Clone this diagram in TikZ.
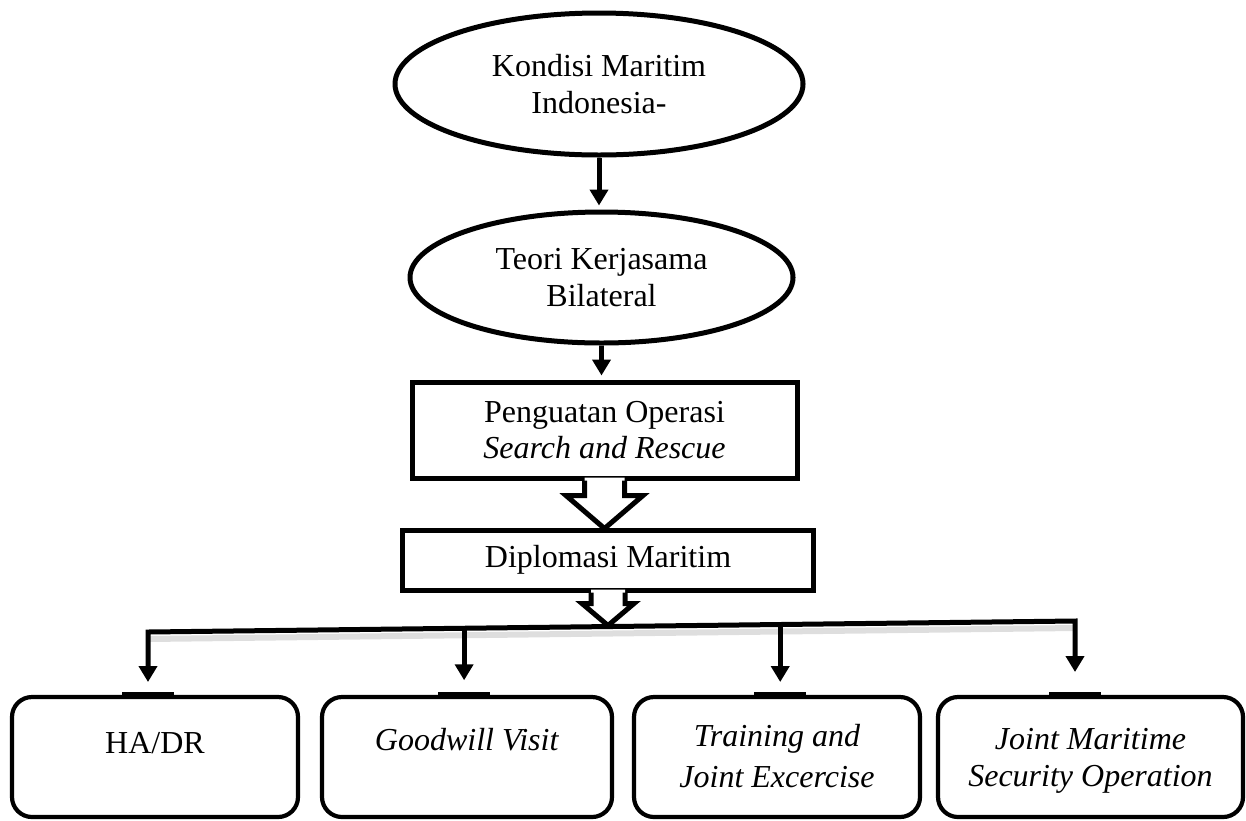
\documentclass[tikz,border=0pt]{standalone}
\usepackage{fontspec}
\setmainfont{Liberation Serif}
\usetikzlibrary{shapes.geometric,arrows.meta,calc}
\begin{document}
\begin{tikzpicture}[x=0.5pt,y=-0.5pt,
  every node/.style={font=\fontsize{16}{18.2}\selectfont, align=center, inner sep=0pt},
  ell/.style={ellipse, draw, line width=2.5pt},
  sbox/.style={rectangle, draw, line width=2.5pt},
  rbox/.style={rectangle, rounded corners=10pt, draw, line width=2.1pt, minimum height=60pt},
  arr/.style={line width=2.5pt, -{Triangle[width=9pt,length=8pt]}},
  blk/.style={line width=2.5pt, line join=miter},
  bar/.style={line width=3.4pt},
  shade/.style={preaction={draw=black!13, line width=3pt, transform canvas={yshift=-3.5pt}}}]
\useasboundingbox (0,0) rectangle (1246,820);

% upper chain
\node[ell, minimum width=204pt, minimum height=71pt] (e1) at (599,84) {Kondisi Maritim\\Indonesia-};
\node[ell, minimum width=191.5pt, minimum height=65.5pt] (e2) at (601.5,277.5) {Teori Kerjasama\\Bilateral};
\node[sbox, minimum width=192.5pt, minimum height=48pt] (b1) at (604.5,430) {Penguatan Operasi\\\textit{Search and Rescue}};
\node[sbox, minimum width=205.5pt, minimum height=30pt] (b2) at (608,560) {Diplomasi Maritim};

\draw[arr, shorten >=2pt] (e1.south) -- (e1.south |- e2.north);
\draw[arr, shorten >=2pt] (e2.south) -- (e2.south |- b1.north);

% block arrow 1
\begin{scope}[shift={(b1.south)}]
  \fill[white] (-20,-3) -- (-20,15) -- (-38.5,15) -- (0,48) -- (38.5,15) -- (20,15) -- (20,-3) -- cycle;
  \draw[blk] (-20,0) -- (-20,15) -- (-38.5,15) -- (0,48) -- (38.5,15) -- (20,15) -- (20,0);
\end{scope}
% block arrow 2
\begin{scope}[shift={(b2.south)}]
  \fill[white] (-17,-3) -- (-17,11) -- (-26,11) -- (0,33) -- (26,11) -- (17,11) -- (17,-3) -- cycle;
  \draw[blk] (-17,0) -- (-17,11) -- (-26,11) -- (0,33) -- (26,11) -- (17,11) -- (17,0);
\end{scope}

% bottom boxes
\node[rbox, minimum width=143pt] (hadr) at (155,757) {};
\node[rbox, minimum width=145pt] (gw) at (467,757) {};
\node[rbox, minimum width=143pt] (tr) at (777,757) {};
\node[rbox, minimum width=152.5pt] (jm) at (1090.5,757) {};
\node (hadrT) at ($(hadr)+(0,-14)$) {HA/DR};
\node (gwT) at ($(gw)+(0,-17)$) {\textit{Goodwill Visit}};
\node (trT) at ($(tr)+(0,-1)$) {\textit{Training and}\\[2pt]\textit{Joint Excercise}};
\node (jmT) at ($(jm)+(0,4)$) {\textit{Joint Maritime}\\\textit{Security Operation}};

% distribution line
\coordinate (L) at (148,632);
\coordinate (R) at (1075,621);
\coordinate (t1) at (148,682);
\coordinate (t4) at (1075,672);
\path ($(L)!0.341!(R)$) coordinate (s2);
\path ($(L)!0.682!(R)$) coordinate (s3);
\coordinate (t2) at ($(s2)+(0,52)$);
\coordinate (t3) at ($(s3)+(0,57.5)$);
\draw[shade] (R) -- (L);
\draw[line width=2.5pt, line join=miter, {Triangle[width=9pt,length=8pt]}-{Triangle[width=9pt,length=8pt]}] (t4) -- (R) -- (L) -- (t1);
\draw[arr] (s2) -- (t2);
\draw[arr] (s3) -- (t3);

% thick bars on box tops
\draw[bar] (t1 |- hadr.north) ++(-26,0) -- ++(52,0);
\draw[bar] (t2 |- gw.north) ++(-26,0) -- ++(52,0);
\draw[bar] (t3 |- tr.north) ++(-26,0) -- ++(52,0);
\draw[bar] (t4 |- jm.north) ++(-26,0) -- ++(52,0);
\end{tikzpicture}
\end{document}
